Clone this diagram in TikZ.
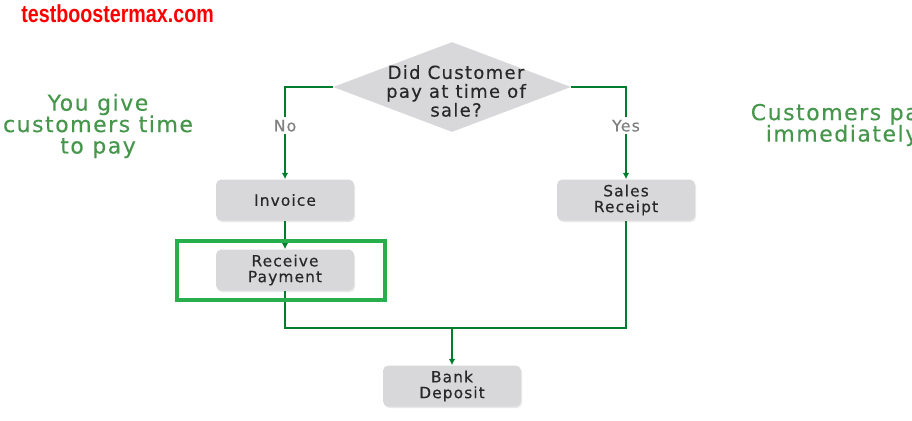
\documentclass[tikz,border=0pt]{standalone}
\usepackage{fontspec}
\setmainfont{DejaVu Sans}[LetterSpace=7,FakeBold=0.35]
\newfontfamily\markfont{Liberation Sans}[FakeStretch=0.8]
\usetikzlibrary{arrows.meta,shapes.geometric,shadows}
\definecolor{boxgray}{RGB}{216,216,219}
\definecolor{inkgray}{RGB}{40,40,40}
\definecolor{flowgreen}{RGB}{0,125,45}
\definecolor{hlgreen}{RGB}{40,175,75}
\definecolor{notegreen}{RGB}{70,150,75}
\definecolor{markred}{RGB}{255,0,0}
\begin{document}
\begin{tikzpicture} [
                x=0.02cm, y=-0.02cm,
                stepbox/.style={rectangle,rounded corners=3pt,fill=boxgray,
                    minimum width=2.76cm,minimum height=0.82cm,inner sep=0pt,
                    align=center,text=inkgray,font=\fontsize{8.8}{9}\selectfont,
                    drop shadow={opacity=0.18,shadow xshift=0.6pt,shadow yshift=-0.9pt}},
                question/.style={diamond,fill=boxgray,minimum width=4.76cm,
                    minimum height=1.8cm,inner sep=0pt},
                flow/.style={draw=flowgreen,line width=1.1pt,-{Latex[length=3.6pt,width=3.8pt]}},
                line/.style={draw=flowgreen,line width=1.1pt},
                answer/.style={fill=white,inner sep=1.5pt,text=gray,
                    font=\fontsize{9}{9}\selectfont},
                note/.style={align=center,text=notegreen,
                    font=\fontsize{12.5}{12.2}\selectfont},
            ]
            \useasboundingbox (0,0) rectangle (912,420);
            \clip (0,0) rectangle (912,420);
            % watermark and side notes
            \node[text=markred,anchor=west,inner sep=0pt,
                font=\markfont\bfseries\fontsize{14}{14}\selectfont] (mark) at (21,14) {testboostermax.com};
            \node[note] (late) at (98,126) {You give\\customers time\\to pay};
            \node[note] (now) at (842,125) {Customers pay\\immediately};
            % First the question and the boxes
            \node[question] (q) at (452,87) {};
            \node[align=center,text=inkgray,inner sep=0pt,
                font=\fontsize{10.3}{10.7}\selectfont] (qtext) at (456,91)
                {Did Customer\\pay at time of\\sale?};
            \foreach \pos/\name/\txt in {
                    {(285,200)/inv/Invoice}, {(285,270)/rp/Receive\\Payment},
                    {(626,200)/sr/Sales\\Receipt}, {(452,386)/bd/Bank\\Deposit}}
                \node[stepbox] (\name) at \pos {\txt};
            \coordinate (jn) at (452,328);
            % Connect the boxes
            \path[flow] (q.west) -| node[answer,pos=0.71] {No} (inv);
            \path[flow] (q.east) -| node[answer,pos=0.71] {Yes} (sr);
            \path[flow] (inv) -- (rp);
            \path[line] (rp.south) |- (jn) -| (sr.south);
            \path[flow] (jn) -- (bd);
            % highlight round the payment step
            \draw[hlgreen,line width=1.8pt] (177,241) rectangle (385,300);
        \end{tikzpicture}
\end{document}
